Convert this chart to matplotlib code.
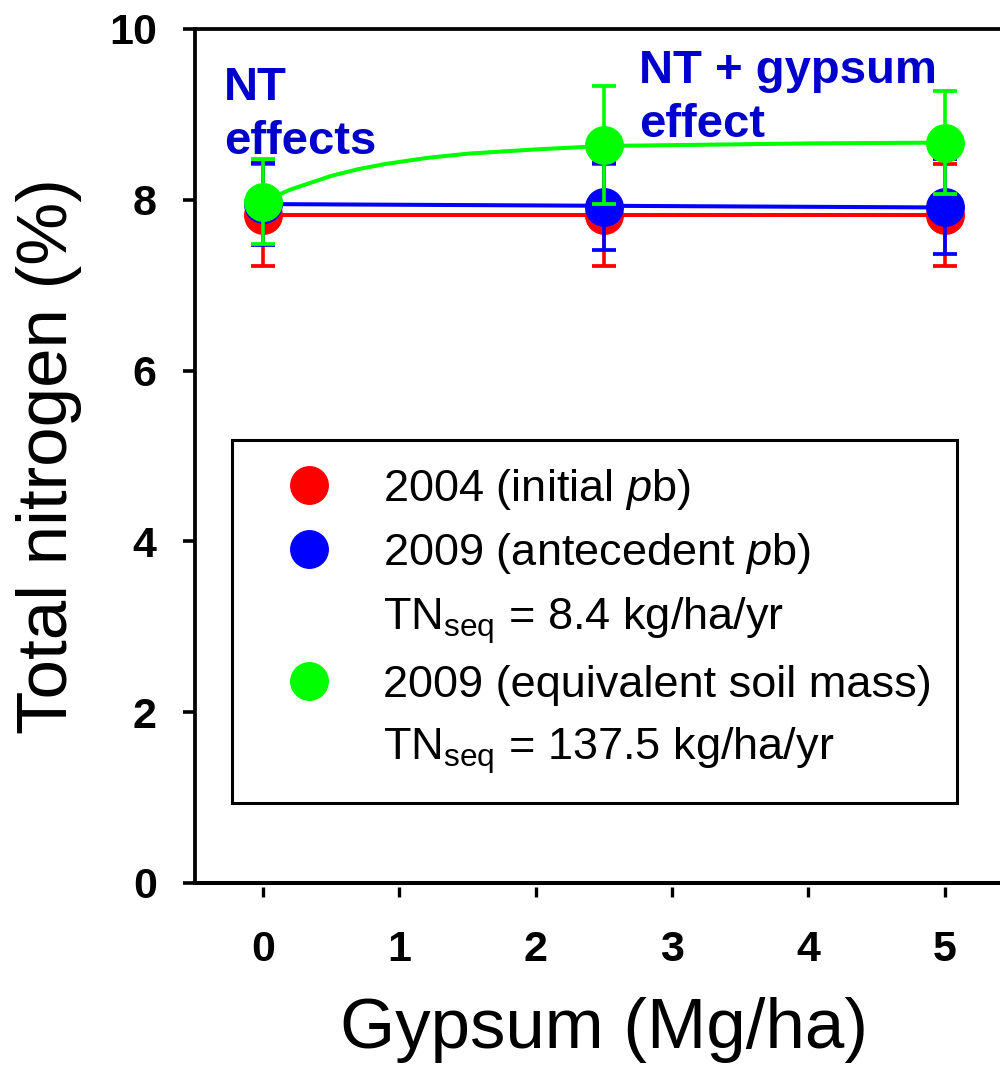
import matplotlib
matplotlib.use("Agg")
import matplotlib.pyplot as plt
from matplotlib.lines import Line2D

plt.rcParams['font.family'] = ['Liberation Sans', 'DejaVu Sans']
plt.rcParams['mathtext.fontset'] = 'custom'
plt.rcParams['mathtext.rm'] = 'Liberation Sans'
plt.rcParams['mathtext.it'] = 'Liberation Sans:italic'

# gypsum rate (Mg/ha)
gypsum = [0, 2.5, 5]

# total nitrogen (%) with error bars
tn_2004 = [7.82, 7.82, 7.82]
err_2004 = [0.60, 0.60, 0.60]
tn_2009_ant = [7.95, 7.92, 7.92]
err_2009_ant = [0.48, 0.51, 0.56]
tn_2009_esm = [7.98, 8.64, 8.67]
err_2009_esm = [0.50, 0.69, 0.60]

# fitted lines
fit_lin_x = [0, 5]
fit_2004 = [7.82, 7.82]
fit_2009_ant = [7.95, 7.91]
fit_esm_x = [0, 0.1, 0.2, 0.35, 0.5, 0.7, 0.9, 1.2, 1.5, 2.0, 2.5, 3.0, 4.0, 5.0]
fit_2009_esm = [7.97, 8.05, 8.12, 8.20, 8.28, 8.36, 8.42, 8.49, 8.54, 8.59,
                8.63, 8.64, 8.66, 8.67]

labels = ['2004 (initial $\\mathit{p}$b)',
          '2009 (antecedent $\\mathit{p}$b)',
          'TN$_{\\mathrm{seq}}$ = 8.4 kg/ha/yr',
          '2009 (equivalent soil mass)',
          'TN$_{\\mathrm{seq}}$ = 137.5 kg/ha/yr']

red, blue, green = '#FF0000', '#0000FF', '#00FF00'
note_col = '#0000CC'

fig = plt.figure(figsize=(10, 10.78), dpi=100)
ax = fig.add_axes([0.195, 0.1809, 0.818, 0.7922])

series = [(tn_2004, err_2004, fit_lin_x, fit_2004, red),
          (tn_2009_ant, err_2009_ant, fit_lin_x, fit_2009_ant, blue),
          (tn_2009_esm, err_2009_esm, fit_esm_x, fit_2009_esm, green)]
for i, (y, e, fx, fy, c) in enumerate(series):
    z = 3 + 2 * i
    ax.plot(fx, fy, color=c, lw=2.9, zorder=z)
    ax.errorbar(gypsum, y, yerr=e, fmt='o', ms=27, color=c, ecolor=c,
                elinewidth=2.6, capsize=8.3, capthick=2.7, zorder=z + 1)

ax.set_xlim(-0.5, 5.5)
ax.set_ylim(0, 10)
ax.set_xticks([0, 1, 2, 3, 4, 5])
ax.set_yticks([0, 2, 4, 6, 8, 10])

for s in ['left', 'top']:
    ax.spines[s].set_linewidth(2.7)
ax.spines['right'].set_visible(False)
ax.spines['bottom'].set_position(('outward', 3))
ax.spines['bottom'].set_visible(False)
ax.axhline(0, color='k', lw=2.9, clip_on=False, zorder=10)

ax.tick_params(axis='y', direction='out', length=8.6, width=2.6, pad=19,
               labelsize=31)
ax.tick_params(axis='x', direction='out', length=7, width=2.4, pad=24,
               labelsize=31)
for lab in ax.get_xticklabels() + ax.get_yticklabels():
    lab.set_fontweight('bold')

ax.set_xlabel('Gypsum (Mg/ha)', fontsize=51)
ax.set_ylabel('Total nitrogen (%)', fontsize=51)
ax.xaxis.set_label_coords(0.5, -0.134)
ax.yaxis.set_label_coords(-0.138, 0.5)

ax.text(-0.29, 9.57, 'NT\neffects', color=note_col, fontsize=34,
        fontweight='bold', va='top', ha='left', linespacing=1.3)
ax.text(2.76, 9.77, 'NT + gypsum\neffect', color=note_col, fontsize=34,
        fontweight='bold', va='top', ha='left', linespacing=1.3)

handles = [Line2D([], [], ls='none', marker='o', ms=27, color=red),
           Line2D([], [], ls='none', marker='o', ms=27, color=blue),
           Line2D([], [], ls='none'),
           Line2D([], [], ls='none', marker='o', ms=27, color=green),
           Line2D([], [], ls='none')]
leg = ax.legend(handles, labels, loc='upper left', mode='expand',
                bbox_to_anchor=(0.0452, 0.5187, 0.886, 0), borderaxespad=0,
                fontsize=32.5, frameon=True, fancybox=False, edgecolor='k',
                framealpha=1, borderpad=0.6, handlelength=2.2,
                handletextpad=0.55, labelspacing=0.42)
leg.get_frame().set_linewidth(2.2)
leg.set_zorder(20)

fig.savefig('out.png', dpi=100)
